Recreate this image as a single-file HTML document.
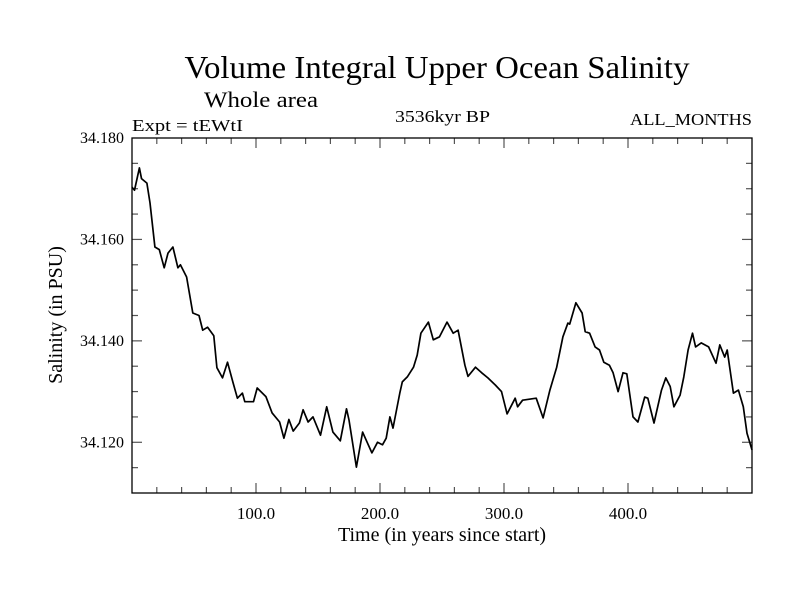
<!DOCTYPE html>
<html><head><meta charset="utf-8"><style>
html,body{margin:0;padding:0;background:#fff;}
svg{display:block;font-family:"Liberation Serif",serif;}
</style></head><body>
<svg id="chart" width="800" height="600" viewBox="0 0 800 600" xmlns="http://www.w3.org/2000/svg">
<text x="437" y="78" font-size="32" text-anchor="middle" textLength="505" lengthAdjust="spacingAndGlyphs">Volume Integral Upper Ocean Salinity</text>
<text x="204" y="107" font-size="22" textLength="114" lengthAdjust="spacingAndGlyphs">Whole area</text>
<text x="132" y="131" font-size="17" textLength="111" lengthAdjust="spacingAndGlyphs">Expt = tEWtI</text>
<text x="395" y="122" font-size="17" textLength="95" lengthAdjust="spacingAndGlyphs">3536kyr BP</text>
<text x="752" y="125" font-size="17" text-anchor="end" textLength="122" lengthAdjust="spacingAndGlyphs">ALL_MONTHS</text>
<text transform="translate(62,315) rotate(-90)" font-size="20" text-anchor="middle">Salinity (in PSU)</text>
<text x="442" y="541" font-size="20" text-anchor="middle">Time (in years since start)</text>
<g id="ticks"></g>
<g id="series"></g>
<rect x="132" y="138" width="620" height="355" fill="none" stroke="#000" stroke-width="1.3"/>
</svg>
<script>
const years = [0,2,6,7.7,12,14.5,18.5,22,26,29,33,37,39,44,49,54,57,61,66,68.5,73,77,81.5,85,89,91,98,101,108,113,119,122.5,126.5,130,135,138,142,146,152,157,162,168,173,175,181,186,190,193.5,198,202,205,208,210.5,216,218,222,227,230,233,239,243,248,254,259,263,268.5,271,277,282,287,293,298,302.5,309,311,315,326,331.5,337,342.5,347.5,351.5,353,358,363,365.5,369,373.5,377,380.5,385,388,392,396,399,404,408,413.5,416,421,427,430.5,434,437,442,445,448.5,452,454.5,459,465,471,474,478,480,485,489,493,496,500];
const salinity = [34.1703,34.1697,34.1741,34.172,34.1711,34.1672,34.1585,34.158,34.1544,34.1573,34.1585,34.1544,34.155,34.1526,34.1455,34.145,34.1421,34.1427,34.141,34.1347,34.1327,34.1358,34.1317,34.1287,34.1297,34.128,34.128,34.1307,34.129,34.1258,34.124,34.1208,34.1245,34.1222,34.1238,34.1264,34.124,34.125,34.1214,34.127,34.122,34.1203,34.1266,34.1244,34.1151,34.122,34.1198,34.1179,34.12,34.1195,34.1208,34.125,34.1228,34.1297,34.1319,34.1329,34.1348,34.1372,34.1415,34.1437,34.1402,34.1408,34.1437,34.1415,34.1421,34.1352,34.133,34.1348,34.1337,34.1327,34.1313,34.13,34.1256,34.1287,34.127,34.1283,34.1287,34.1248,34.1303,34.1348,34.1408,34.1435,34.1433,34.1475,34.1455,34.1418,34.1415,34.1388,34.1382,34.1358,34.1352,34.1337,34.13,34.1337,34.1335,34.125,34.124,34.1289,34.1287,34.1238,34.1303,34.1327,34.131,34.127,34.1293,34.1329,34.1382,34.1415,34.1388,34.1396,34.1388,34.1356,34.1392,34.1368,34.1382,34.1297,34.1303,34.127,34.1218,34.1185];
const xTickLabels = ["100.0","200.0","300.0","400.0"];
const xTickValues = [100,200,300,400];
const yTickLabels = ["34.120","34.140","34.160","34.180"];
const yTickValues = [34.12,34.14,34.16,34.18];

const X0=132,X1=752,Y0=493,Y1=138, xMin=0,xMax=500,yMin=34.110,yMax=34.180;
const sx = v => X0 + (v-xMin)/(xMax-xMin)*(X1-X0);
const sy = v => Y0 - (v-yMin)/(yMax-yMin)*(Y0-Y1);
const NS="http://www.w3.org/2000/svg";
const tg=document.getElementById('ticks');
function line(x1,y1,x2,y2,name){
  const l=document.createElementNS(NS,'line');
  l.setAttribute('x1',x1);l.setAttribute('y1',y1);l.setAttribute('x2',x2);l.setAttribute('y2',y2);
  l.setAttribute('stroke','#555');l.setAttribute('stroke-width','1.2');
  
  
  tg.appendChild(l);
}
for(let v=20; v<500; v+=20){
  const major = v%100===0, len = major?10:6, x=sx(v);
  line(x,Y0,x,Y0-len,'x-tick');
  line(x,Y1,x,Y1+len,'x-tick-top');
}
for(let i=1;i<14;i++){
  const v=yMin+i*0.005, major=(i%4===2), len=major?10:6, y=sy(v);
  line(X0,y,X0+len,y,'y-tick');
  line(X1,y,X1-len,y,'y-tick-right');
}
xTickValues.forEach((v,i)=>{
  const t=document.createElementNS(NS,'text');
  t.setAttribute('x',sx(v));t.setAttribute('y',Y0+26);t.setAttribute('font-size','17');t.setAttribute('text-anchor','middle');
  t.textContent=xTickLabels[i];
  
  
  tg.appendChild(t);
});
yTickValues.forEach((v,i)=>{
  const t=document.createElementNS(NS,'text');
  t.setAttribute('x',X0-8);t.setAttribute('y',sy(v)+5);t.setAttribute('font-size','16');t.setAttribute('text-anchor','end');
  t.textContent=yTickLabels[i];
  
  
  tg.appendChild(t);
});
const p=document.createElementNS(NS,'path');
p.setAttribute('d', years.map((y,i)=>(i?'L':'M')+sx(y).toFixed(1)+','+sy(salinity[i]).toFixed(1)).join(''));
p.setAttribute('fill','none');p.setAttribute('stroke','#000');p.setAttribute('stroke-width','1.7');p.setAttribute('stroke-linejoin','round');


document.getElementById('series').appendChild(p);
</script>
</body></html>
